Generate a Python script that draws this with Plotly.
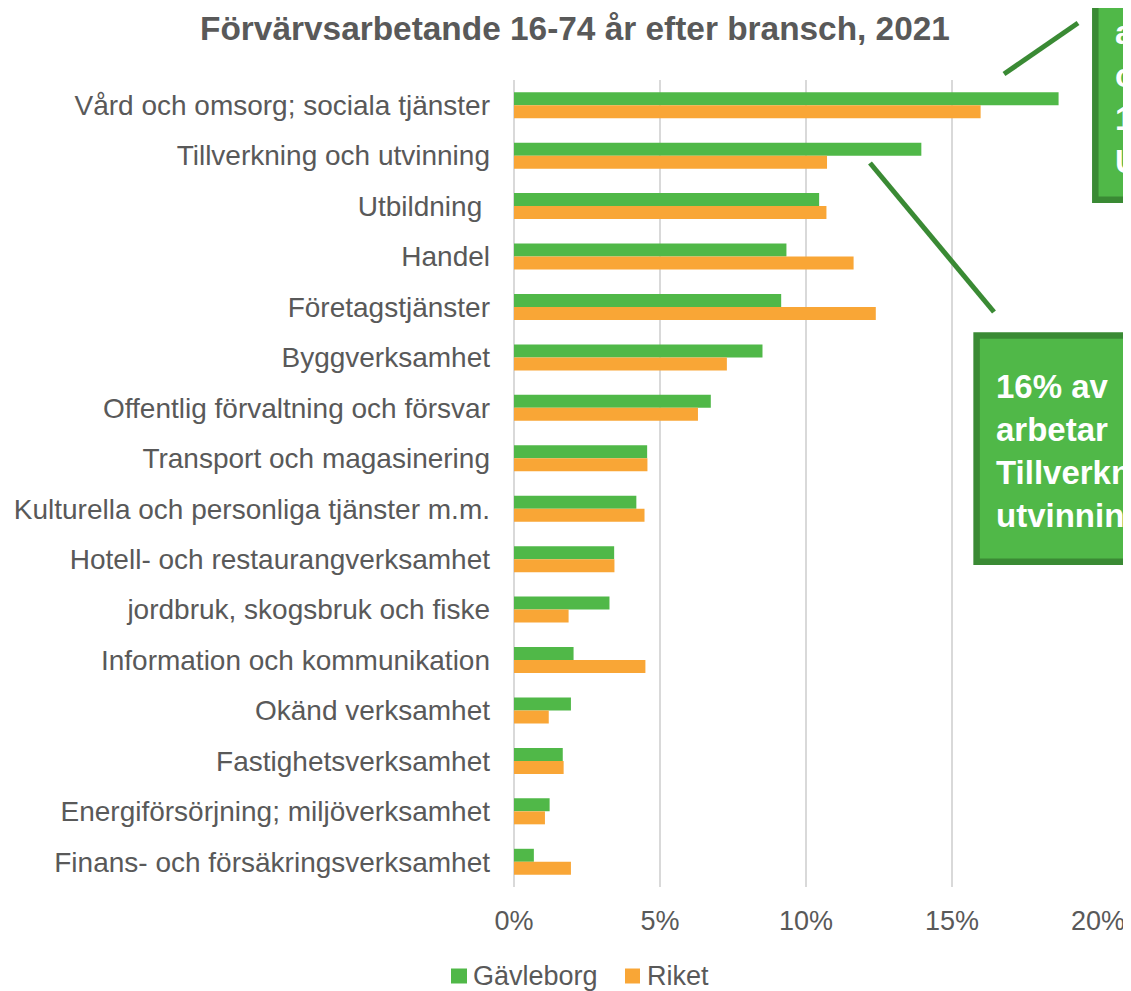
import plotly.graph_objects as go

categories = [
    "Vård och omsorg; sociala tjänster",
    "Tillverkning och utvinning",
    "Utbildning\u00a0",
    "Handel",
    "Företagstjänster",
    "Byggverksamhet",
    "Offentlig förvaltning och försvar",
    "Transport och magasinering",
    "Kulturella och personliga tjänster m.m.",
    "Hotell- och restaurangverksamhet",
    "jordbruk, skogsbruk och fiske",
    "Information och kommunikation",
    "Okänd verksamhet",
    "Fastighetsverksamhet",
    "Energiförsörjning; miljöverksamhet",
    "Finans- och försäkringsverksamhet",
]
gavleborg = [18.65, 13.95, 10.45, 9.33, 9.15, 8.51, 6.74, 4.56, 4.19, 3.43, 3.27, 2.04, 1.95, 1.67, 1.22, 0.68]
riket = [15.98, 10.72, 10.70, 11.63, 12.39, 7.29, 6.30, 4.57, 4.47, 3.44, 1.87, 4.50, 1.19, 1.70, 1.06, 1.95]
series_names = ["Gävleborg", "Riket"]
x_ticks = [0, 5, 10, 15, 20]
x_ticktext = ["0%", "5%", "10%", "15%", "20%"]

title_text = "Förvärvsarbetande 16-74 år efter bransch, 2021"
box1_lines = ["arbetar inom Vård", "och omsorg, jämfört", "16% i riket", "Utmärkande för länet"]
box2_lines = ["16% av", "arbetar", "Tillverkning och", "utvinning"]

GREEN = "#50B848"
ORANGE = "#F9A636"
DARK = "#3A8A34"
GRAY = "#595959"
FONT = "Arial, Liberation Sans, sans-serif"

OFF = 8  # page body margin
W, H = 1123, 983
L, R, T, B = 506, 33, 72, 104
PW, PH = W - L - R, H - T - B


def px(x):
    """page pixel x -> paper x"""
    return (x - OFF - L) / PW


def py(y):
    """page pixel y -> paper y"""
    return (H - B - (y - OFF)) / PH


fig = go.Figure()
fig.add_trace(go.Bar(y=categories, x=gavleborg, orientation="h", name=series_names[0],
                     marker=dict(color=GREEN, line=dict(width=0)), showlegend=False))
fig.add_trace(go.Bar(y=categories, x=riket, orientation="h", name=series_names[1],
                     marker=dict(color=ORANGE, line=dict(width=0)), showlegend=False))

shapes = [
    dict(type="line", xref="paper", yref="paper", x0=px(1004), y0=py(74), x1=px(1078), y1=py(23),
         line=dict(color=DARK, width=5)),
    dict(type="line", xref="paper", yref="paper", x0=px(870), y0=py(163), x1=px(994), y1=py(312),
         line=dict(color=DARK, width=5)),
    dict(type="rect", xref="paper", yref="paper", x0=px(1095.3), x1=px(1250), y0=py(-30), y1=py(199.7),
         line=dict(color=DARK, width=6.5), fillcolor=GREEN),
    dict(type="rect", xref="paper", yref="paper", x0=px(976.6), x1=px(1250), y0=py(335.6), y1=py(561.8),
         line=dict(color=DARK, width=6.5), fillcolor=GREEN),
    # legend swatches
    dict(type="rect", xref="paper", yref="paper", x0=px(451), x1=px(467), y0=py(968.5), y1=py(983.5),
         line=dict(width=0), fillcolor=GREEN),
    dict(type="rect", xref="paper", yref="paper", x0=px(625), x1=px(640), y0=py(968.5), y1=py(983.5),
         line=dict(width=0), fillcolor=ORANGE),
]

annotations = [
    dict(xref="paper", yref="paper", x=px(1113), y=py(97), xanchor="left", yanchor="middle",
         text="<br>".join(box1_lines), align="left", showarrow=False,
         font=dict(family=FONT, size=33, color="white", weight="bold")),
    dict(xref="paper", yref="paper", x=px(994), y=py(451), xanchor="left", yanchor="middle",
         text="<br>".join(box2_lines), align="left", showarrow=False,
         font=dict(family=FONT, size=33, color="white", weight="bold")),
    dict(xref="paper", yref="paper", x=px(471), y=py(976), xanchor="left", yanchor="middle",
         text=series_names[0], showarrow=False, font=dict(family=FONT, size=27, color=GRAY)),
    dict(xref="paper", yref="paper", x=px(645), y=py(976), xanchor="left", yanchor="middle",
         text=series_names[1], showarrow=False, font=dict(family=FONT, size=27, color=GRAY)),
]

fig.update_layout(
    width=W, height=H,
    margin=dict(l=L, r=R, t=T, b=B, pad=0, autoexpand=False),
    paper_bgcolor="white", plot_bgcolor="white",
    barmode="group", bargap=0.485, bargroupgap=0,
    showlegend=False,
    font=dict(family=FONT, size=27, color=GRAY),
    title=dict(text=title_text, x=(575 - OFF) / W, xanchor="center", y=1 - (28 - OFF) / H,
               yanchor="middle", font=dict(family=FONT, size=33.4, color=GRAY, weight="bold")),
    xaxis=dict(range=[0, 20], tickvals=x_ticks, ticktext=x_ticktext, showgrid=True,
               gridcolor="#D9D9D9", gridwidth=1.5, zeroline=True, zerolinecolor="#D9D9D9",
               zerolinewidth=1.5, showline=False, ticks="", automargin=False,
               ticklabelstandoff=15, tickfont=dict(size=27, color=GRAY)),
    yaxis=dict(range=[len(categories) - 0.5, -0.5], showgrid=False, zeroline=False,
               showline=False, ticks="", ticklabelstandoff=23, automargin=False,
               tickfont=dict(size=28, color=GRAY)),
    shapes=shapes,
    annotations=annotations,
)

fig.write_html("out.html")
